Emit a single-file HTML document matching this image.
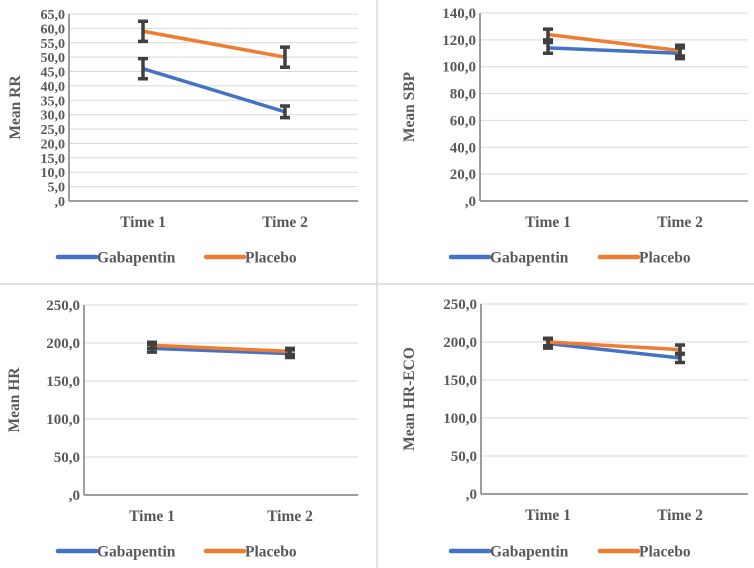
<!DOCTYPE html>
<html><head><meta charset="utf-8"><style>
html,body{margin:0;padding:0;background:#fff;}
svg{display:block;font-family:"Liberation Serif",serif;font-weight:bold;}
</style></head><body>
<svg id="c" width="754" height="568" viewBox="0 0 754 568"></svg>
<script>
const categories=["Time 1","Time 2"];
const seriesNames=["Gabapentin","Placebo"];
const rrGab=[46,31], rrGabErr=[3.5,2], rrPla=[59,50], rrPlaErr=[3.5,3.5];
const sbpGab=[114,110], sbpGabErr=[4,4], sbpPla=[124,112], sbpPlaErr=[4,4];
const hrGab=[193,186], hrGabErr=[5,5], hrPla=[197,189], hrPlaErr=[4,4];
const ecoGab=[198,179], ecoGabErr=[6,6], ecoPla=[200,190], ecoPlaErr=[5,6];
const rrTicks=[0,5,10,15,20,25,30,35,40,45,50,55,60,65];
const sbpTicks=[0,20,40,60,80,100,120,140];
const hrTicks=[0,50,100,150,200,250];
const ecoTicks=[0,50,100,150,200,250];
const colors=["#4472C4","#ED7D31"];
const NS="http://www.w3.org/2000/svg";
const svg=document.getElementById('c');
function mk(tag,at,parent){const e=document.createElementNS(NS,tag);for(const k in at)e.setAttribute(k,at[k]);(parent||svg).appendChild(e);return e;}
function fmt(v){return v===0?",0":v.toFixed(1).replace('.',',');}
let d1=mk('line',{x1:377,y1:0,x2:377,y2:568,stroke:'#d9d9d9','stroke-width':1.5});


let d2=mk('line',{x1:0,y1:284,x2:754,y2:284,stroke:'#d9d9d9','stroke-width':1.5});


function panel(cfg){
  const g=mk('g',{});
  
  
  const max=cfg.ticks[cfg.ticks.length-1];
  const y=v=>cfg.bottom-(v/max)*(cfg.bottom-cfg.top);
  const x=i=>cfg.xs[i];
  cfg.ticks.forEach(t=>{
    const gl=mk('line',{x1:cfg.left,x2:cfg.right,y1:y(t),y2:y(t),stroke:'#d9d9d9','stroke-width':1},g);
    
    
    const tl=mk('text',{x:cfg.left-4,y:y(t)+5,'text-anchor':'end','font-size':cfg.fs,fill:'#595959'},g);
    tl.textContent=fmt(t);
    
    
  });
  const ax=mk('line',{x1:cfg.left,x2:cfg.left,y1:cfg.top,y2:cfg.bottom,stroke:'#7f7f7f','stroke-width':1.5},g);
  
  
  const bx=mk('line',{x1:cfg.left,x2:cfg.right,y1:cfg.bottom,y2:cfg.bottom,stroke:'#7f7f7f','stroke-width':1.5},g);
  
  
  categories.forEach((c,i)=>{
    const t=mk('text',{x:x(i),y:cfg.bottom+26,'text-anchor':'middle','font-size':15.5,fill:'#595959'},g);
    t.textContent=c;
    
    
  });
  const yt=mk('text',{transform:`translate(${cfg.titleX},${(cfg.top+cfg.bottom)/2}) rotate(-90)`,'text-anchor':'middle','font-size':15.5,fill:'#595959'},g);
  yt.textContent=cfg.title;
  
  
  cfg.series.forEach((s,si)=>{
    const l=mk('polyline',{points:s.v.map((v,i)=>x(i)+','+y(v)).join(' '),fill:'none',stroke:colors[si],'stroke-width':3.5},g);
    
    
  });
  cfg.series.forEach((s,si)=>{
    s.v.forEach((v,i)=>{
      const e=s.e[i];
      const eb=mk('path',{d:`M${x(i)},${y(v+e)}V${y(v-e)}M${x(i)-5},${y(v+e)}H${x(i)+5}M${x(i)-5},${y(v-e)}H${x(i)+5}`,stroke:'#404040','stroke-width':3.5,fill:'none'},g);
      
      
    });
  });
  seriesNames.forEach((n,si)=>{
    const lx=cfg.legX[si];
    const ll=mk('line',{x1:lx,x2:lx+38,y1:cfg.legY,y2:cfg.legY,stroke:colors[si],'stroke-width':4.5,'stroke-linecap':'round'},g);
    
    
    const lt=mk('text',{x:lx+39,y:cfg.legY+5.5,'font-size':15.5,fill:'#595959'},g);
    lt.textContent=n;
    
    
  });
}
panel({name:'rr-panel',title:'Mean RR',ticks:rrTicks,left:69,right:358,top:14,bottom:201,xs:[143,285],fs:14,titleX:20,legY:257,legX:[58,206],
  series:[{v:rrGab,e:rrGabErr},{v:rrPla,e:rrPlaErr}]});
panel({name:'sbp-panel',title:'Mean SBP',ticks:sbpTicks,left:480,right:748,top:13,bottom:201,xs:[548,680],fs:15,titleX:414,legY:257,legX:[451,600],
  series:[{v:sbpGab,e:sbpGabErr},{v:sbpPla,e:sbpPlaErr}]});
panel({name:'hr-panel',title:'Mean HR',ticks:hrTicks,left:84,right:358,top:305,bottom:495,xs:[152,290],fs:15,titleX:19,legY:551,legX:[58,206],
  series:[{v:hrGab,e:hrGabErr},{v:hrPla,e:hrPlaErr}]});
panel({name:'hr-eco-panel',title:'Mean HR-ECO',ticks:ecoTicks,left:481,right:748,top:304,bottom:494,xs:[548,680],fs:15,titleX:414,legY:551,legX:[451,600],
  series:[{v:ecoGab,e:ecoGabErr},{v:ecoPla,e:ecoPlaErr}]});
</script>
</body></html>
